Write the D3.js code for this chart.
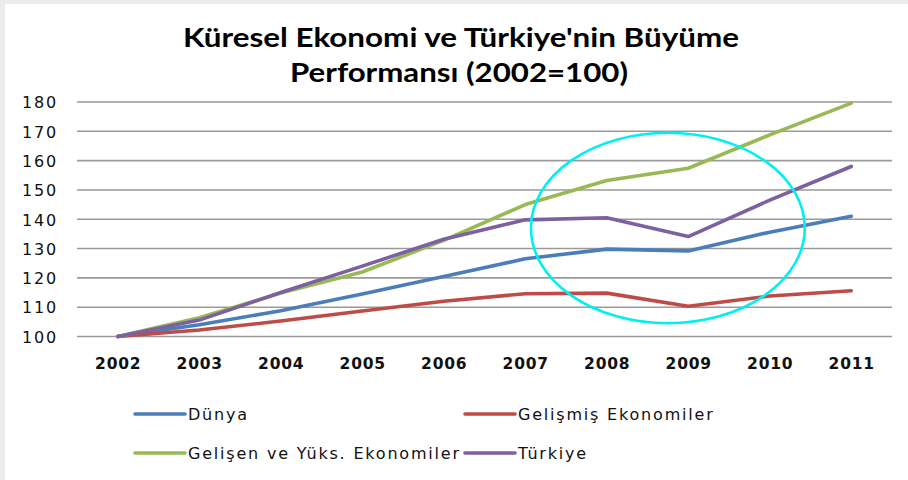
<!DOCTYPE html>
<html>
<head>
<meta charset="utf-8">
<script src="https://cdn.jsdelivr.net/npm/d3@7/dist/d3.min.js"></script>
<style>
  html, body { margin: 0; padding: 0; background: #ececec; }
  svg { display: block; }
</style>
</head>
<body>
<svg id="chart" width="908" height="480"></svg>
<script>
// ---- data ----
const years = ["2002","2003","2004","2005","2006","2007","2008","2009","2010","2011"];
const dunya    = [100, 104.0, 108.8, 114.5, 120.5, 126.5, 129.8, 129.2, 135.6, 141.0];
const gelismis = [100, 102.2, 105.3, 108.7, 112.0, 114.6, 114.8, 110.3, 113.8, 115.6];
const gelisen  = [100, 106.4, 114.8, 122.0, 132.8, 145.0, 153.2, 157.4, 168.8, 179.6];
const turkiye  = [100, 105.6, 115.0, 124.0, 133.2, 139.8, 140.5, 134.1, 146.5, 158.0];
const seriesNames = ["Dünya", "Gelişmiş Ekonomiler", "Gelişen ve Yüks. Ekonomiler", "Türkiye"];
const yTicks = [100, 110, 120, 130, 140, 150, 160, 170, 180];
const titleLines = ["Küresel Ekonomi ve Türkiye'nin Büyüme", "Performansı (2002=100)"];
// highlighted region (in data units): centre year index, centre value, half-width (years), half-height (value)
const highlight = { yearIndex: 6.75, value: 137, halfYears: 1.68, halfValue: 32.5 };

const colors = ["#4a7ebb", "#be4b48", "#98b954", "#7d60a0"];
const seriesData = [dunya, gelismis, gelisen, turkiye];

const svg = d3.select("#chart");

// card background
svg.append("rect").attr("x", 5).attr("y", 4).attr("width", 903).attr("height", 476).attr("fill", "#ffffff");

// title
const title = svg.append("text")
  .attr("text-anchor", "middle")
  .attr("font-family", "Lato, 'Open Sans', sans-serif")
  .attr("font-weight", "bold")
  .attr("font-size", 27)
  .attr("fill", "#000");
title.append("tspan").attr("x", 461).attr("y", 47).attr("textLength", 556).attr("lengthAdjust", "spacingAndGlyphs").text(titleLines[0]);
title.append("tspan").attr("x", 459).attr("y", 82).attr("textLength", 338).attr("lengthAdjust", "spacingAndGlyphs").text(titleLines[1]);

// scales
const x = d3.scalePoint().domain(years).range([77, 892]).padding(0.5);
const y = d3.scaleLinear().domain([100, 180]).range([336.5, 102]);

// gridlines
svg.append("g").selectAll("line").data(yTicks).join("line")
  .attr("x1", 77).attr("x2", 892)
  .attr("y1", d => y(d)).attr("y2", d => y(d))
  .attr("stroke", "#9a9a9a").attr("stroke-width", 1.6);

// y axis labels
const yAxis = d3.axisLeft(y).tickValues(yTicks).tickSize(0).tickPadding(0).tickFormat(d3.format("d"));
const gy = svg.append("g").attr("transform", "translate(58,0)").call(yAxis);
gy.select(".domain").remove();
gy.selectAll("text").attr("font-family", "'DejaVu Sans', Verdana, sans-serif").attr("font-size", 16)
  .attr("letter-spacing", 1.8).attr("fill", "#111").attr("dy", "0.36em");

// x axis labels
const xAxis = d3.axisBottom(x).tickSize(0).tickPadding(0);
const gx = svg.append("g").attr("transform", "translate(0,358)").call(xAxis);
gx.select(".domain").remove();
gx.selectAll("text").attr("font-family", "'DejaVu Sans', Verdana, sans-serif").attr("font-weight", "bold")
  .attr("font-size", 15.5).attr("letter-spacing", 0.8).attr("fill", "#111").attr("dy", "0.71em");

// lines
const line = d3.line().x((d, i) => x(years[i])).y(d => y(d));
svg.append("g").selectAll("path").data(seriesData).join("path")
  .attr("d", d => line(d))
  .attr("fill", "none")
  .attr("stroke", (d, i) => colors[i])
  .attr("stroke-width", 3.6)
  .attr("stroke-linejoin", "round")
  .attr("stroke-linecap", "round");

// highlight ellipse
const step = x.step();
const x0 = x(years[0]);
svg.append("ellipse")
  .attr("cx", x0 + highlight.yearIndex * step)
  .attr("cy", y(highlight.value))
  .attr("rx", highlight.halfYears * step)
  .attr("ry", y(100) - y(100 + highlight.halfValue))
  .attr("fill", "none")
  .attr("stroke", "#00f0f0")
  .attr("stroke-width", 2.6);

// legend
const legendPos = [[135, 414], [465, 414], [135, 453], [465, 453]];
const lg = svg.append("g").selectAll("g").data(seriesNames).join("g")
  .attr("transform", (d, i) => `translate(${legendPos[i][0]},${legendPos[i][1]})`);
lg.append("line").attr("x1", 0).attr("x2", 50).attr("y1", 0).attr("y2", 0)
  .attr("stroke", (d, i) => colors[i]).attr("stroke-width", 3.6).attr("stroke-linecap", "round");
lg.append("text").attr("x", 53).attr("y", 0).attr("dy", "0.36em")
  .attr("font-family", "'DejaVu Sans', Verdana, sans-serif").attr("font-size", 16)
  .attr("letter-spacing", 1.8)
  .attr("fill", "#111").text(d => d);
</script>
</body>
</html>
